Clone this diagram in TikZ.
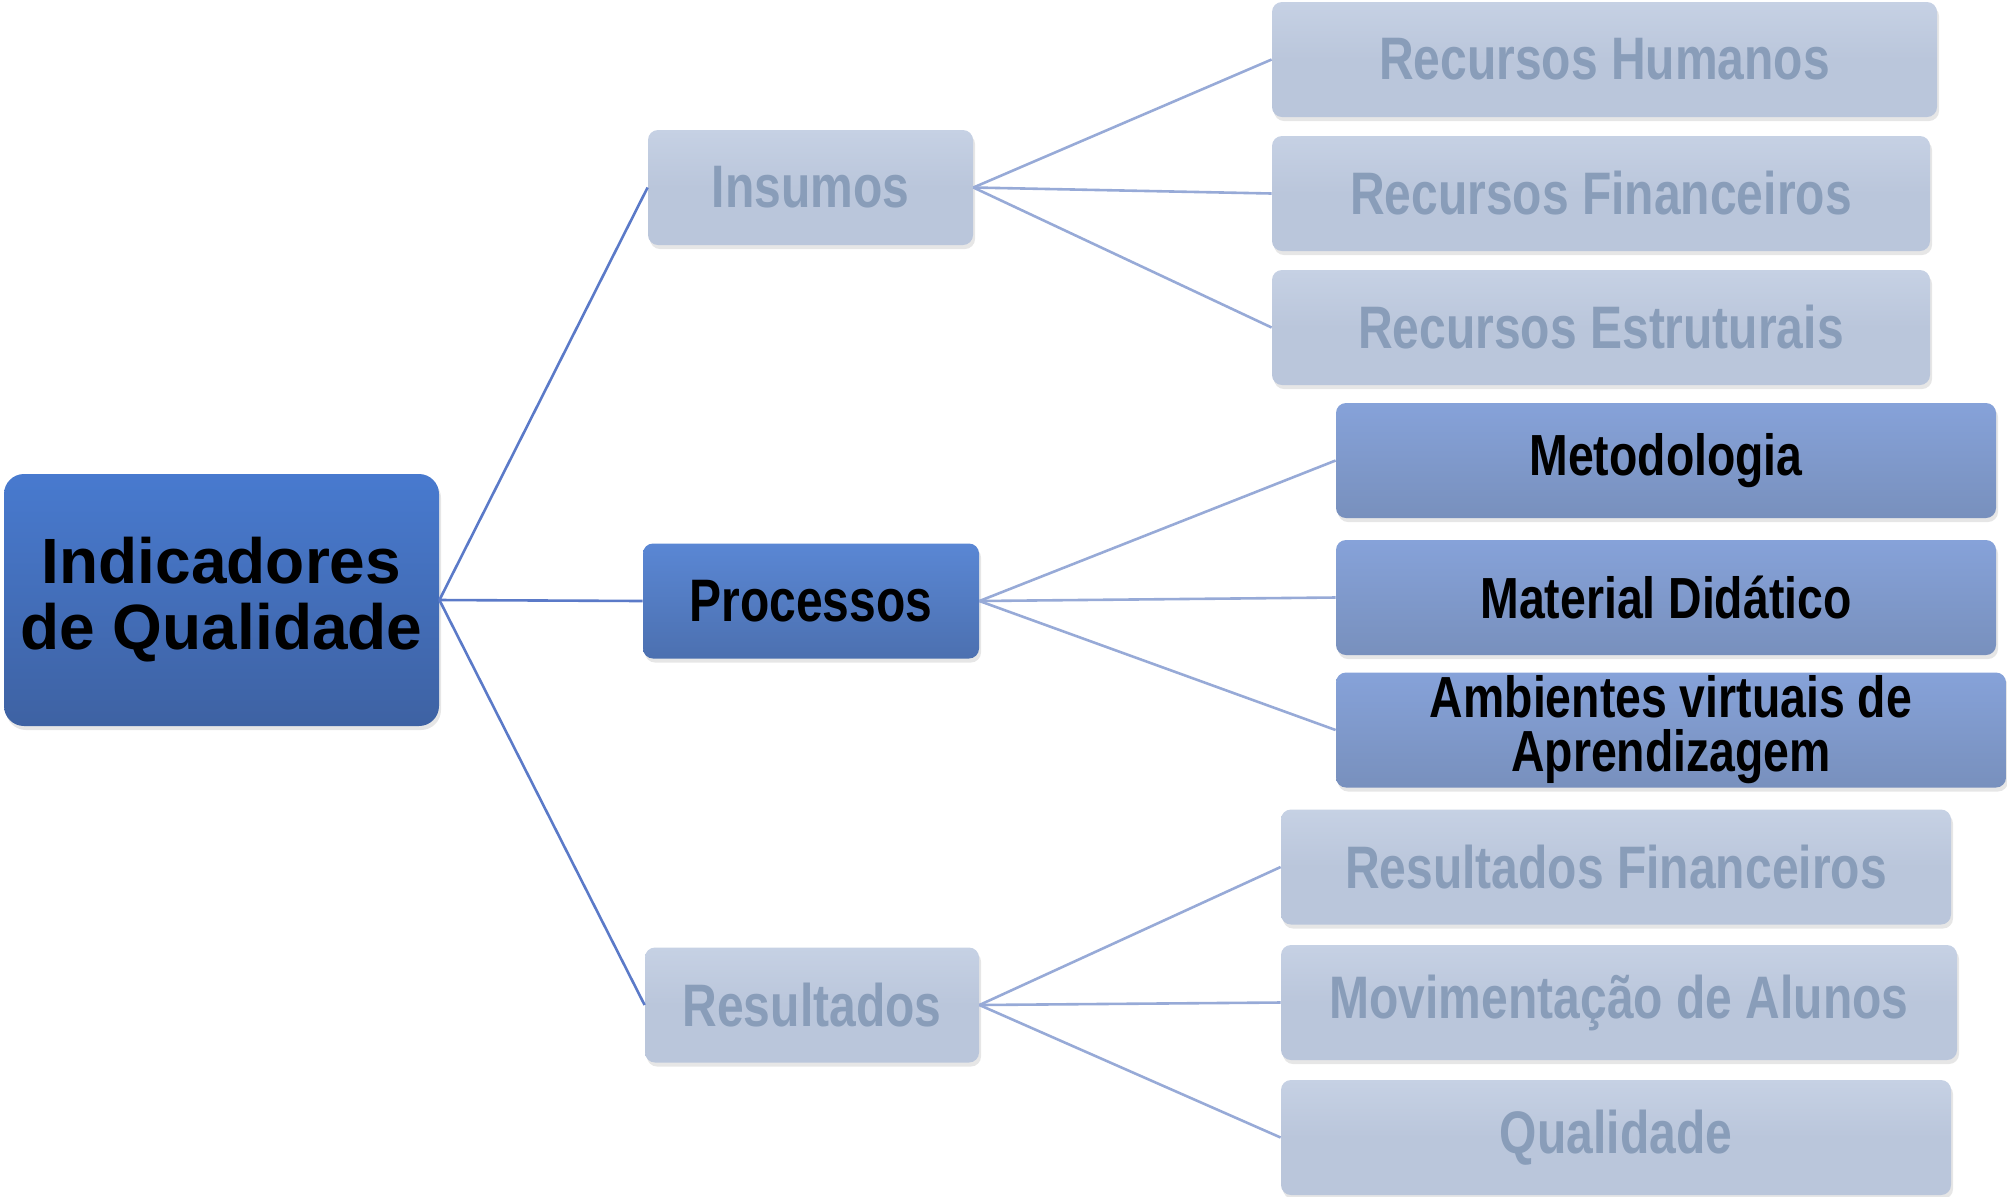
\documentclass[tikz,border=0pt]{standalone}
\usepackage{fontspec}
\setmainfont{Liberation Sans}
\newfontfamily\narrowfont[FakeStretch=0.8]{Liberation Sans}
\usetikzlibrary{shadows}

\definecolor{raizTopo}{HTML}{487ACF}
\definecolor{raizBase}{HTML}{3E62A3}
\definecolor{procTopo}{HTML}{5A87D4}
\definecolor{procBase}{HTML}{4C70B0}
\definecolor{medioTopo}{HTML}{86A2D9}
\definecolor{medioBase}{HTML}{7890BD}
\definecolor{cinzaTopo}{HTML}{C6D1E4}
\definecolor{cinzaFundo}{HTML}{BAC6DB}
\definecolor{cinzaTexto}{HTML}{899DB9}
\definecolor{linhaForte}{HTML}{5B7AC8}
\definecolor{linhaFraca}{HTML}{97AAD7}

\begin{document}
\begin{tikzpicture}[x=0.5pt,y=-0.5pt,
  caixa/.style={rounded corners=5pt, minimum height=57.5pt, inner sep=0pt, align=center,
    drop shadow={opacity=0.2, shadow xshift=1pt, shadow yshift=-2pt}},
  raiz/.style={caixa, rounded corners=10pt, minimum width=217.5pt, minimum height=126pt,
    top color=raizTopo, bottom color=raizBase,
    font=\fontsize{32}{33}\selectfont\bfseries},
  proc/.style={caixa, top color=procTopo, bottom color=procBase,
    font=\narrowfont\fontsize{30}{25}\selectfont\bfseries},
  medio/.style={caixa, top color=medioTopo, bottom color=medioBase,
    font=\narrowfont\fontsize{29}{27}\selectfont\bfseries},
  cinza/.style={caixa, top color=cinzaTopo, bottom color=cinzaFundo, middle color=cinzaFundo,
    text=cinzaTexto, font=\narrowfont\fontsize{30}{25}\selectfont\bfseries},
  liga1/.style={draw=linhaForte, line width=1.3pt},
  liga2/.style={draw=linhaFraca, line width=1.3pt}]
\useasboundingbox (0,0) rectangle (2007,1196);

% raiz
\node[raiz] (ind) at (221.5,600) {Indicadores\\de Qualidade};

% segundo nivel
\node[cinza, minimum width=162.5pt] (ins) at (810.5,187.5) {Insumos};
\node[proc, minimum width=168pt] (proc) at (811,601) {Processos};
\node[cinza, minimum width=167pt] (res) at (812,1005) {Resultados};

% terceiro nivel
\node[cinza, minimum width=332.5pt] (rh) at (1604.5,59.5) {Recursos Humanos};
\node[cinza, minimum width=329pt] (rf) at (1601,193.5) {Recursos Financeiros};
\node[cinza, minimum width=329pt] (re) at (1601,327.5) {Recursos Estruturais};

\node[medio, minimum width=330pt] (met) at (1666,460.5) {Metodologia};
\node[medio, minimum width=330pt] (mat) at (1666,597.5) {Material Didático};
\node[medio, minimum width=335pt] (amb) at (1671,730) {Ambientes virtuais de\\Aprendizagem};

\node[cinza, minimum width=335pt] (rfin) at (1616,867) {Resultados Financeiros};
\node[cinza, minimum width=338pt] (mov) at (1619,1002.5) {Movimentação de Alunos};
\node[cinza, minimum width=335pt] (qual) at (1616,1137.5) {Qualidade};

\foreach \filho in {ins,proc,res}
	\draw[liga1] (ind.east) -- (\filho.west);
\foreach \filho in {rh,rf,re}
	\draw[liga2] (ins.east) -- (\filho.west);
\foreach \filho in {met,mat,amb}
	\draw[liga2] (proc.east) -- (\filho.west);
\foreach \filho in {rfin,mov,qual}
	\draw[liga2] (res.east) -- (\filho.west);

\end{tikzpicture}
\end{document}
